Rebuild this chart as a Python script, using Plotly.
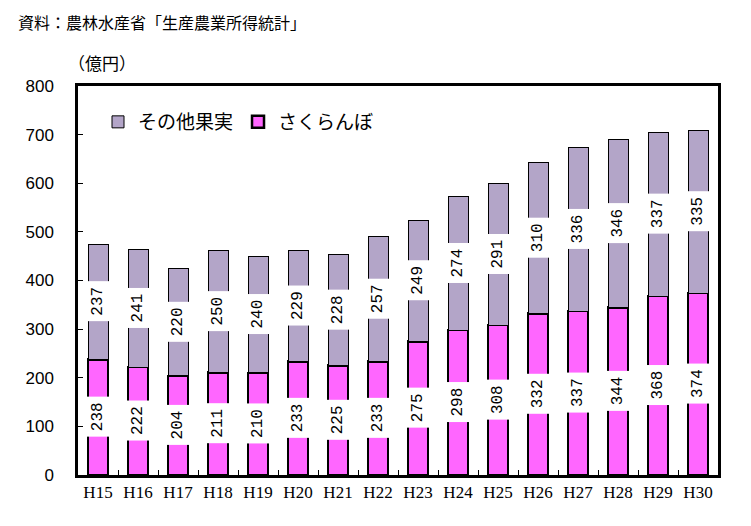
import plotly.graph_objects as go

categories = ["H15", "H16", "H17", "H18", "H19", "H20", "H21", "H22",
              "H23", "H24", "H25", "H26", "H27", "H28", "H29", "H30"]
cherry = [238, 222, 204, 211, 210, 233, 225, 233, 275, 298, 308, 332, 337, 344, 368, 374]
other_fruit = [237, 241, 220, 250, 240, 229, 228, 257, 249, 274, 291, 310, 336, 346, 337, 335]
y_ticks = [0, 100, 200, 300, 400, 500, 600, 700, 800]

# page has an 8px body margin, so the figure is laid out in page pixels minus 8
OFF = 8
W, H = 751 - OFF, 526 - OFF
ML, MR, MT, MB = 78 - OFF, 33, 86 - OFF, 51
PW, PH = W - ML - MR, H - MT - MB


def px_x(x):
    return (x - OFF - ML) / PW


def px_y(y):
    return (H - MB - (y - OFF)) / PH


fig = go.Figure()
fig.add_trace(go.Bar(
    x=categories, y=cherry, name="さくらんぼ",
    marker=dict(color="#FF66FF", line=dict(color="black", width=2.5)),
))
fig.add_trace(go.Bar(
    x=categories, y=other_fruit, name="その他果実",
    marker=dict(color="#B3A5C8", line=dict(color="black", width=1)),
))

annotations = []
for c, a, b in zip(categories, cherry, other_fruit):
    for val, mid in ((a, a / 2), (b, a + b / 2)):
        annotations.append(dict(
            x=c, y=mid, xref="x", yref="y", text=str(val), showarrow=False,
            textangle=-90, bgcolor="white", borderpad=5,
            font=dict(family="Liberation Mono", size=16, color="black"),
        ))

annotations.append(dict(
    x=px_x(17), y=px_y(9), xref="paper", yref="paper",
    text="資料：農林水産省「生産農業所得統計」",
    showarrow=False, xanchor="left", yanchor="top", borderpad=0,
    font=dict(family="Noto Sans CJK JP", size=16, color="black"),
))
annotations.append(dict(
    x=px_x(66), y=px_y(62), xref="paper", yref="paper", text="（億円）",
    showarrow=False, xanchor="left", yanchor="middle",
    font=dict(family="Noto Sans CJK JP", size=17, color="black"),
))

fig.update_layout(
    width=W, height=H,
    margin=dict(l=ML, r=MR, t=MT, b=MB),
    barmode="stack", bargap=0.5,
    plot_bgcolor="white", paper_bgcolor="white",
    showlegend=True,
    legend=dict(
        orientation="h", x=px_x(98), y=px_y(122), xanchor="left", yanchor="middle",
        traceorder="reversed",
        font=dict(family="Noto Sans CJK JP", size=19, color="black"),
        bgcolor="rgba(0,0,0,0)", itemwidth=30,
    ),
    annotations=annotations,
    xaxis=dict(
        type="category", showline=True, linecolor="black", linewidth=2.5, mirror=True,
        ticks="inside", tickson="boundaries", ticklen=5, tickcolor="black",
        tickfont=dict(family="Liberation Serif", size=17, color="black"),
        showgrid=False, zeroline=False,
    ),
    yaxis=dict(
        range=[0, 800], tickvals=y_ticks, showline=True, linecolor="black", linewidth=2.5,
        mirror=True, ticks="inside", ticklen=5, tickcolor="black",
        tickfont=dict(family="Liberation Sans", size=17, color="black"),
        ticklabelstandoff=18, showgrid=False, zeroline=False,
    ),
)

fig.write_html("out.html")
